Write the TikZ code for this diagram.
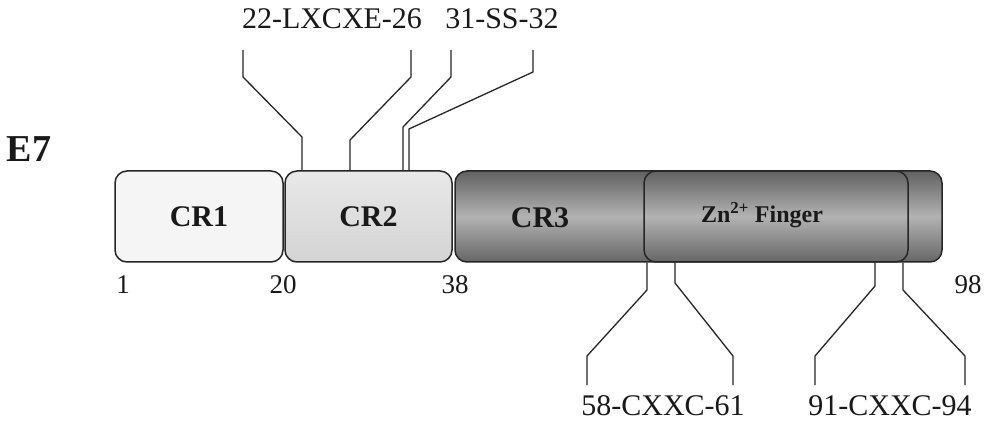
\documentclass[tikz,border=0pt]{standalone}
\usepackage{fontspec}
\setmainfont{Liberation Serif}
\usetikzlibrary{calc,positioning}
\tikzset{
    domainbox/.style={draw=black!85,line width=1.5pt,rounded corners=12pt,inner sep=0pt,
        minimum height=91pt,font=\fontsize{30}{32}\selectfont\bfseries},
    siteline/.style={line width=1.3pt,draw=black!85},
    sitelabel/.style={inner sep=0pt,font=\fontsize{30}{32}\selectfont},
    poslabel/.style={inner sep=0pt,font=\fontsize{27}{29}\selectfont},
    every node/.style={text=black!90}
}

\begin{document}
\begin{tikzpicture}[x=1pt,y=-1pt]
  \useasboundingbox[fill=white] (0,0) rectangle (991,422);

  % protein name
            \node[inner sep=0pt,font=\fontsize{38}{40}\selectfont\bfseries] (E7) at (29,149) {E7};

  %---------------- domains ----------------
            \node[domainbox,minimum width=168pt,fill=black!4] (CR1) at (199,216.5) {CR1};
            \node[domainbox,minimum width=167pt,shading=axis,top color=black!9,
                bottom color=black!17] (CR2) at (368.5,216.5) {CR2};
            \node[domainbox,minimum width=487pt,shading=axis,top color=black!62,
                bottom color=black!60,middle color=black!30] (CR3) at (698.5,216.5) {};
            \node[font=\fontsize{30}{32}\selectfont\bfseries,inner sep=0pt] (CR3lab) at (540,218) {CR3};
  % zinc finger drawn over CR3
            \node[domainbox,minimum width=264pt] (Zn) at (776,216.5) {};
            \node[font=\fontsize{24}{26}\selectfont\bfseries,inner sep=0pt] (Znlab) at (762,215)
                {Zn\textsuperscript{2+} Finger};

  %---------------- residue numbers ----------------
            \node[poslabel] (n1) at (123,285) {1};
            \node[poslabel] (n20) at (283,285) {20};
            \node[poslabel] (n38) at (455,285) {38};
            \node[poslabel] (n98) at (968,285) {98};

  %---------------- upper motifs ----------------
            \node[sitelabel] (LXCXE) at (332,19) {22-LXCXE-26};
            \node[sitelabel] (SS) at (502,19) {31-SS-32};
            \coordinate (u22) at (243,50);
            \coordinate (u26) at (411,50);
            \coordinate (u31) at (451,50);
            \coordinate (u32) at (533,50);

            \draw[siteline] (CR2.north -| 302,0) -- (302,137) -- (243,77) -- (u22);
            \draw[siteline] (CR2.north -| 350,0) -- (350,140) -- (411,77) -- (u26);
            \draw[siteline] (CR2.north -| 403,0) -- (403,127) -- (451,77) -- (u31);
            \draw[siteline] (CR2.north -| 409,0) -- (409,129) -- (533,72) -- (u32);

  %---------------- lower motifs ----------------
            \node[sitelabel] (CXXCa) at (663,406) {58-CXXC-61};
            \node[sitelabel] (CXXCb) at (890,406) {91-CXXC-94};
            \coordinate (d58) at (587,385);
            \coordinate (d61) at (733,385);
            \coordinate (d91) at (815,385);
            \coordinate (d94) at (965,385);

            \draw[siteline] (CR3.south -| 647,0) -- (647,290) -- (587,356) -- (d58);
            \draw[siteline] (CR3.south -| 675,0) -- (675,283) -- (733,356) -- (d61);
            \draw[siteline] (CR3.south -| 875,0) -- (875,286) -- (815,356) -- (d91);
            \draw[siteline] (CR3.south -| 903,0) -- (903,290) -- (965,356) -- (d94);

        \end{tikzpicture}
\end{document}
